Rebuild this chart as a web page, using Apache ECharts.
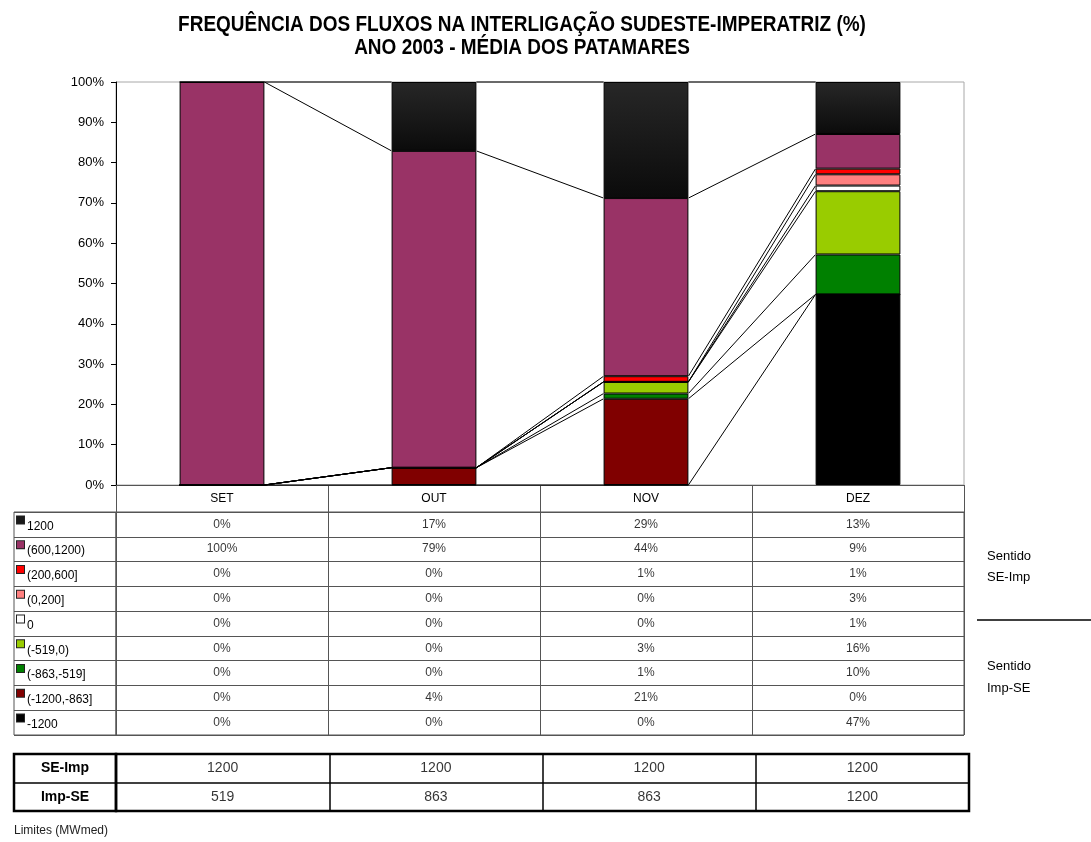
<!DOCTYPE html>
<html>
<head>
<meta charset="utf-8">
<script src="https://cdn.jsdelivr.net/npm/echarts@6/dist/echarts.min.js"></script>
<style>
html,body{margin:0;padding:0;background:#fff;}
#chart{width:1091px;height:842px;}
</style>
</head>
<body>
<div id="chart"></div>
<script>
// ---------------- DATA ----------------
const categories = ['SET', 'OUT', 'NOV', 'DEZ'];
// stacking order, bottom to top
const seriesNames = ['-1200', '(-1200,-863]', '(-863,-519]', '(-519,0)', '0', '(0,200]', '(200,600]', '(600,1200)', '1200'];
const vM1200     = [0, 0, 0, 47.3];
const v1200_863  = [0, 4.3, 21.4, 0];
const v863_519   = [0, 0, 1.3, 9.9];
const v519_0     = [0, 0, 2.9, 15.7];
const vZero      = [0, 0, 0, 1.4];
const v0_200     = [0, 0, 0, 2.8];
const v200_600   = [0, 0, 1.4, 1.4];
const v600_1200  = [100, 78.6, 44.2, 8.6];
const v1200      = [0, 17.1, 28.8, 12.9];
const seriesValues = [vM1200, v1200_863, v863_519, v519_0, vZero, v0_200, v200_600, v600_1200, v1200];
const yTicks = [0, 10, 20, 30, 40, 50, 60, 70, 80, 90, 100];

const limitRows = ['SE-Imp', 'Imp-SE'];
const limSEImp = [1200, 1200, 1200, 1200];
const limImpSE = [519, 863, 863, 1200];
const limitValues = [limSEImp, limImpSE];

// ---------------- STYLE ----------------
const FONT = "'Liberation Sans', Arial, sans-serif";
const blackGrad = new echarts.graphic.LinearGradient(0, 0, 0, 1, [
  {offset: 0, color: '#272727'}, {offset: 1, color: '#0b0b0b'}
]);
const colors = ['#000000', '#800000', '#008000', '#99CC00', '#FFFFFF', '#FF8080', '#FF0000', '#993366', blackGrad];
const legendColors = ['#000000', '#800000', '#008000', '#99CC00', '#FFFFFF', '#FF8080', '#FF0000', '#993366', '#1a1a1a'];

const chart = echarts.init(document.getElementById('chart'), null, {renderer: 'canvas'});

// grid geometry
const PL = 116, PT = 82, PW = 848, PH = 403;
const TT = 512, TH = 223;
const LT = 754, LH = 57;

const barSeries = seriesNames.map((name, k) => ({
  name: name,
  type: 'bar',
  stack: 'total',
  barWidth: '40%',
  xAxisIndex: 0, yAxisIndex: 0,
  data: seriesValues[k],
  itemStyle: {color: colors[k], borderColor: '#000', borderWidth: 1},
  emphasis: {disabled: true},
  silent: true,
  z: 3
}));

// series lines connecting tops of each segment between adjacent bars
const seriesLines = {
  type: 'custom',
  xAxisIndex: 0, yAxisIndex: 0,
  silent: true,
  z: 2,
  data: categories.slice(0, -1).map((c, i) => [i, 0]),
  encode: {x: 0, y: 1},
  renderItem: function (params, api) {
    const i = api.value(0);
    const half = api.size([1, 0])[0] * 0.4 / 2;
    const children = [];
    let c0 = 0, c1 = 0;
    for (let k = 0; k < seriesValues.length; k++) {
      c0 += seriesValues[k][i];
      c1 += seriesValues[k][i + 1];
      const p0 = api.coord([i, c0]);
      const p1 = api.coord([i + 1, c1]);
      children.push({
        type: 'line',
        shape: {x1: p0[0] + half, y1: p0[1], x2: p1[0] - half, y2: p1[1]},
        style: {stroke: '#000', lineWidth: 1}
      });
    }
    return {type: 'group', children: children};
  }
};

// table cells (percentages)
const tableData = [];
seriesValues.forEach((vals, k) => vals.forEach((v, i) => tableData.push([i, k, v])));
const tableSeries = {
  type: 'scatter',
  xAxisIndex: 1, yAxisIndex: 1,
  symbolSize: 0,
  silent: true,
  data: tableData,
  label: {
    show: true, position: 'inside',
    formatter: p => Math.round(p.value[2]) + '%',
    color: '#000', fontSize: 12, fontFamily: FONT
  }
};

// limits table cells
const limData = [];
limitValues.forEach((vals, r) => vals.forEach((v, i) => limData.push([i, r, v])));
const limSeries = {
  type: 'scatter',
  xAxisIndex: 3, yAxisIndex: 3,
  symbolSize: 0,
  silent: true,
  data: limData,
  label: {
    show: true, position: 'inside',
    formatter: p => String(p.value[2]),
    color: '#000', fontSize: 14, fontFamily: FONT
  }
};

const rich = {t: {fontSize: 12, fontFamily: FONT, color: '#000', padding: [4, 0, 0, 3]}};
seriesNames.forEach((n, k) => {
  rich['s' + k] = {width: 7, height: 7, backgroundColor: legendColors[k], borderColor: '#222', borderWidth: 1, verticalAlign: 'top'};
});

const hiddenCatX = (grid, data) => ({
  type: 'category', gridIndex: grid, data: data,
  axisLine: {show: false}, axisTick: {show: false}, axisLabel: {show: false},
  splitLine: {show: false}
});

const option = {
  animation: false,
  backgroundColor: '#fff',
  textStyle: {fontFamily: FONT},
  grid: [
    {left: PL, top: PT, width: PW, height: PH, show: true, borderColor: '#a8a8a8', borderWidth: 1, backgroundColor: 'transparent'},
    {left: PL, top: TT, width: PW, height: TH, show: true, borderColor: '#555', borderWidth: 1},
    {left: 14, top: TT, width: PL - 14, height: TH, show: true, borderColor: '#555', borderWidth: 1},
    {left: PL, top: LT, width: 853, height: LH, show: true, borderColor: '#000', borderWidth: 2.5},
    {left: 14, top: LT, width: PL - 14, height: LH, show: true, borderColor: '#000', borderWidth: 2.5}
  ],
  xAxis: [
    {
      type: 'category', gridIndex: 0, data: categories,
      axisLine: {show: true, lineStyle: {color: '#555', width: 1}},
      axisTick: {show: true, length: 27, lineStyle: {color: '#555'}},
      axisLabel: {margin: 8, color: '#000', fontSize: 12, fontFamily: FONT, interval: 0},
      splitLine: {show: false}
    },
    Object.assign(hiddenCatX(1, categories), {splitLine: {show: true, lineStyle: {color: '#555', width: 1}}}),
    hiddenCatX(2, ['']),
    Object.assign(hiddenCatX(3, categories), {splitLine: {show: true, lineStyle: {color: '#000', width: 1.5}}}),
    hiddenCatX(4, [''])
  ],
  yAxis: [
    {
      type: 'value', gridIndex: 0, min: 0, max: 100, interval: 10,
      axisLine: {show: true, lineStyle: {color: '#000', width: 1}},
      axisTick: {show: true, length: 5, lineStyle: {color: '#000'}},
      axisLabel: {formatter: '{value}%', color: '#000', fontSize: 13, fontFamily: FONT, margin: 12},
      splitLine: {show: false}
    },
    {
      type: 'category', gridIndex: 1, data: seriesNames,
      axisLine: {show: false}, axisTick: {show: false}, axisLabel: {show: false},
      splitLine: {show: true, lineStyle: {color: '#555', width: 1}}
    },
    {
      type: 'category', gridIndex: 2, data: seriesNames,
      axisLine: {show: false}, axisTick: {show: false},
      axisLabel: {
        show: true, inside: true, align: 'left', margin: 3, interval: 0,
        formatter: (v, idx) => '{s' + idx + '|}{t|' + v + '}',
        rich: rich
      },
      splitLine: {show: true, lineStyle: {color: '#555', width: 1}}
    },
    {
      type: 'category', gridIndex: 3, data: limitRows, inverse: true,
      axisLine: {show: false}, axisTick: {show: false},
      axisLabel: {show: true, margin: 51, align: 'center', fontWeight: 'bold', fontSize: 14, color: '#000', fontFamily: FONT, interval: 0},
      splitLine: {show: true, lineStyle: {color: '#000', width: 1.5}}
    },
    {
      type: 'category', gridIndex: 4, data: limitRows, inverse: true,
      axisLine: {show: false}, axisTick: {show: false}, axisLabel: {show: false},
      splitLine: {show: true, lineStyle: {color: '#000', width: 1.5}}
    }
  ],
  series: barSeries.concat([seriesLines, tableSeries, limSeries]),
  graphic: [
    {
      type: 'text', x: 522, y: 13, scaleY: 1.15,
      style: {
        text: 'FREQUÊNCIA DOS FLUXOS NA INTERLIGAÇÃO SUDESTE-IMPERATRIZ (%)\nANO 2003 - MÉDIA DOS PATAMARES',
        textAlign: 'center', textVerticalAlign: 'top',
        font: 'bold 19px ' + FONT, lineHeight: 20, fill: '#000'
      }
    },
    {
      type: 'text', x: 987, y: 546,
      style: {text: 'Sentido\nSE-Imp', font: '13px ' + FONT, lineHeight: 21, fill: '#000', textVerticalAlign: 'top'}
    },
    {
      type: 'line', shape: {x1: 977, y1: 620, x2: 1091, y2: 620},
      style: {stroke: '#000', lineWidth: 1.5}
    },
    {
      type: 'text', x: 987, y: 655,
      style: {text: 'Sentido\nImp-SE', font: '13px ' + FONT, lineHeight: 22, fill: '#000', textVerticalAlign: 'top'}
    },
    {
      type: 'text', x: 14, y: 825,
      style: {text: 'Limites (MWmed)', font: '12px ' + FONT, fill: '#222', textVerticalAlign: 'top'}
    }
  ]
};
chart.setOption(option);
</script>
</body>
</html>
